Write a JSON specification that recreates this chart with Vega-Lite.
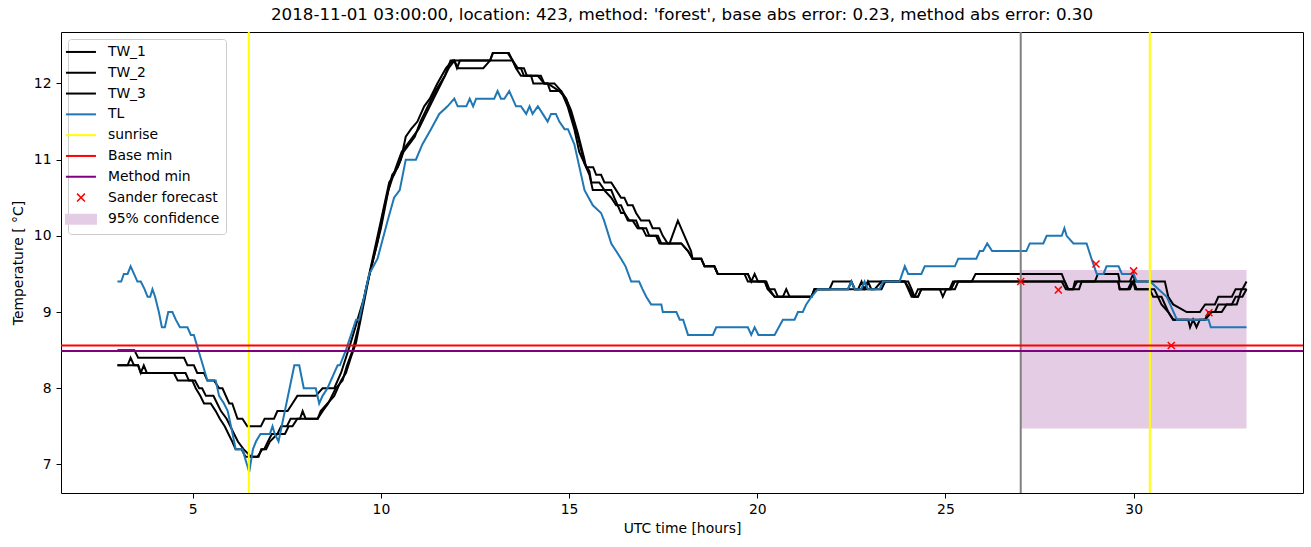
{
  "$schema": "https://vega.github.io/schema/vega-lite/v6.json",
  "width": 1242,
  "height": 461,
  "autosize": {"type": "none"},
  "padding": {"left": 61, "top": 32, "right": 8, "bottom": 54},
  "title": {"text": "2018-11-01 03:00:00, location: 423, method: 'forest', base abs error: 0.23, method abs error: 0.30", "fontSize": 16.7, "fontWeight": "normal", "font": "DejaVu Sans", "color": "black", "offset": 7},
  "config": {
    "font": "DejaVu Sans",
    "view": {"stroke": "black", "strokeWidth": 1},
    "axis": {"domain": false, "grid": false, "tickColor": "black", "tickSize": 5, "labelFontSize": 13.9, "labelColor": "black", "titleFontSize": 13.9, "titleFontWeight": "normal", "titleColor": "black", "labelFont": "DejaVu Sans", "titleFont": "DejaVu Sans"}
  },
  "datasets": {
    "lines": [
      {"s":"TW_1","t":3.00,"v":8.5},{"s":"TW_1","t":3.45,"v":8.5},{"s":"TW_1","t":3.55,"v":8.4},{"s":"TW_1","t":4.77,"v":8.4},{"s":"TW_1","t":4.86,"v":8.3},{"s":"TW_1","t":5.03,"v":8.3},{"s":"TW_1","t":5.12,"v":8.2},{"s":"TW_1","t":5.30,"v":8.2},{"s":"TW_1","t":5.39,"v":8.1},{"s":"TW_1","t":5.57,"v":8.1},{"s":"TW_1","t":5.70,"v":8.0},{"s":"TW_1","t":5.79,"v":8.0},{"s":"TW_1","t":5.97,"v":7.8},{"s":"TW_1","t":6.05,"v":7.8},{"s":"TW_1","t":6.19,"v":7.6},{"s":"TW_1","t":6.32,"v":7.6},{"s":"TW_1","t":6.45,"v":7.5},{"s":"TW_1","t":6.81,"v":7.5},{"s":"TW_1","t":6.91,"v":7.6},{"s":"TW_1","t":7.16,"v":7.6},{"s":"TW_1","t":7.25,"v":7.7},{"s":"TW_1","t":7.52,"v":7.7},{"s":"TW_1","t":7.65,"v":7.8},{"s":"TW_1","t":7.78,"v":7.9},{"s":"TW_1","t":8.27,"v":7.9},{"s":"TW_1","t":8.45,"v":8.0},{"s":"TW_1","t":8.76,"v":8.0},{"s":"TW_1","t":8.94,"v":8.2},{"s":"TW_1","t":9.07,"v":8.4},{"s":"TW_1","t":9.20,"v":8.6},{"s":"TW_1","t":9.38,"v":8.9},{"s":"TW_1","t":9.56,"v":9.2},{"s":"TW_1","t":9.78,"v":9.7},{"s":"TW_1","t":10.00,"v":10.2},{"s":"TW_1","t":10.22,"v":10.7},{"s":"TW_1","t":10.35,"v":10.8},{"s":"TW_1","t":10.53,"v":11.0},{"s":"TW_1","t":10.66,"v":11.3},{"s":"TW_1","t":10.80,"v":11.4},{"s":"TW_1","t":10.97,"v":11.5},{"s":"TW_1","t":11.15,"v":11.7},{"s":"TW_1","t":11.30,"v":11.8},{"s":"TW_1","t":11.50,"v":12.0},{"s":"TW_1","t":11.73,"v":12.2},{"s":"TW_1","t":11.90,"v":12.3},{"s":"TW_1","t":12.90,"v":12.3},{"s":"TW_1","t":12.97,"v":12.4},{"s":"TW_1","t":13.37,"v":12.4},{"s":"TW_1","t":13.50,"v":12.3},{"s":"TW_1","t":13.59,"v":12.2},{"s":"TW_1","t":13.72,"v":12.1},{"s":"TW_1","t":14.17,"v":12.1},{"s":"TW_1","t":14.34,"v":12.0},{"s":"TW_1","t":14.61,"v":12.0},{"s":"TW_1","t":14.79,"v":11.9},{"s":"TW_1","t":14.92,"v":11.8},{"s":"TW_1","t":15.05,"v":11.65},{"s":"TW_1","t":15.23,"v":11.35},{"s":"TW_1","t":15.41,"v":11.0},{"s":"TW_1","t":15.45,"v":10.9},{"s":"TW_1","t":15.64,"v":10.9},{"s":"TW_1","t":15.72,"v":10.8},{"s":"TW_1","t":15.85,"v":10.8},{"s":"TW_1","t":15.94,"v":10.7},{"s":"TW_1","t":16.12,"v":10.7},{"s":"TW_1","t":16.25,"v":10.6},{"s":"TW_1","t":16.38,"v":10.5},{"s":"TW_1","t":16.47,"v":10.5},{"s":"TW_1","t":16.56,"v":10.4},{"s":"TW_1","t":16.69,"v":10.4},{"s":"TW_1","t":16.78,"v":10.3},{"s":"TW_1","t":16.91,"v":10.2},{"s":"TW_1","t":17.13,"v":10.2},{"s":"TW_1","t":17.22,"v":10.1},{"s":"TW_1","t":17.40,"v":10.1},{"s":"TW_1","t":17.49,"v":10.0},{"s":"TW_1","t":17.62,"v":9.9},{"s":"TW_1","t":17.98,"v":9.9},{"s":"TW_1","t":18.16,"v":9.8},{"s":"TW_1","t":18.28,"v":9.7},{"s":"TW_1","t":18.51,"v":9.7},{"s":"TW_1","t":18.60,"v":9.6},{"s":"TW_1","t":18.86,"v":9.6},{"s":"TW_1","t":18.95,"v":9.5},{"s":"TW_1","t":19.75,"v":9.5},{"s":"TW_1","t":19.84,"v":9.4},{"s":"TW_1","t":19.93,"v":9.5},{"s":"TW_1","t":20.02,"v":9.4},{"s":"TW_1","t":20.20,"v":9.4},{"s":"TW_1","t":20.28,"v":9.3},{"s":"TW_1","t":20.46,"v":9.2},{"s":"TW_1","t":21.44,"v":9.2},{"s":"TW_1","t":21.52,"v":9.3},{"s":"TW_1","t":21.92,"v":9.3},{"s":"TW_1","t":22.01,"v":9.4},{"s":"TW_1","t":22.50,"v":9.4},{"s":"TW_1","t":22.59,"v":9.3},{"s":"TW_1","t":22.85,"v":9.3},{"s":"TW_1","t":22.94,"v":9.4},{"s":"TW_1","t":23.92,"v":9.4},{"s":"TW_1","t":24.01,"v":9.3},{"s":"TW_1","t":24.10,"v":9.2},{"s":"TW_1","t":24.18,"v":9.2},{"s":"TW_1","t":24.27,"v":9.3},{"s":"TW_1","t":25.25,"v":9.3},{"s":"TW_1","t":25.34,"v":9.4},{"s":"TW_1","t":25.70,"v":9.4},{"s":"TW_1","t":25.80,"v":9.5},{"s":"TW_1","t":28.09,"v":9.5},{"s":"TW_1","t":28.17,"v":9.4},{"s":"TW_1","t":28.26,"v":9.3},{"s":"TW_1","t":28.39,"v":9.3},{"s":"TW_1","t":28.50,"v":9.4},{"s":"TW_1","t":28.97,"v":9.4},{"s":"TW_1","t":29.05,"v":9.5},{"s":"TW_1","t":29.59,"v":9.5},{"s":"TW_1","t":29.63,"v":9.4},{"s":"TW_1","t":29.90,"v":9.4},{"s":"TW_1","t":29.99,"v":9.5},{"s":"TW_1","t":30.04,"v":9.4},{"s":"TW_1","t":30.83,"v":9.4},{"s":"TW_1","t":30.92,"v":9.2},{"s":"TW_1","t":31.05,"v":9.1},{"s":"TW_1","t":31.41,"v":9.0},{"s":"TW_1","t":31.76,"v":9.0},{"s":"TW_1","t":31.90,"v":9.1},{"s":"TW_1","t":32.16,"v":9.1},{"s":"TW_1","t":32.25,"v":9.2},{"s":"TW_1","t":32.61,"v":9.2},{"s":"TW_1","t":32.71,"v":9.3},{"s":"TW_1","t":32.89,"v":9.3},{"s":"TW_1","t":33.00,"v":9.4},
      {"s":"TW_2","t":3.00,"v":8.3},{"s":"TW_2","t":3.27,"v":8.3},{"s":"TW_2","t":3.35,"v":8.4},{"s":"TW_2","t":3.44,"v":8.3},{"s":"TW_2","t":3.55,"v":8.3},{"s":"TW_2","t":3.62,"v":8.2},{"s":"TW_2","t":3.70,"v":8.3},{"s":"TW_2","t":3.78,"v":8.2},{"s":"TW_2","t":4.50,"v":8.2},{"s":"TW_2","t":4.60,"v":8.1},{"s":"TW_2","t":4.99,"v":8.1},{"s":"TW_2","t":5.08,"v":8.0},{"s":"TW_2","t":5.20,"v":7.9},{"s":"TW_2","t":5.30,"v":7.8},{"s":"TW_2","t":5.48,"v":7.8},{"s":"TW_2","t":5.61,"v":7.7},{"s":"TW_2","t":5.72,"v":7.6},{"s":"TW_2","t":5.85,"v":7.5},{"s":"TW_2","t":5.95,"v":7.4},{"s":"TW_2","t":6.05,"v":7.3},{"s":"TW_2","t":6.14,"v":7.2},{"s":"TW_2","t":6.30,"v":7.2},{"s":"TW_2","t":6.40,"v":7.1},{"s":"TW_2","t":6.72,"v":7.1},{"s":"TW_2","t":6.85,"v":7.2},{"s":"TW_2","t":6.95,"v":7.2},{"s":"TW_2","t":7.05,"v":7.3},{"s":"TW_2","t":7.25,"v":7.4},{"s":"TW_2","t":7.45,"v":7.4},{"s":"TW_2","t":7.55,"v":7.5},{"s":"TW_2","t":7.65,"v":7.5},{"s":"TW_2","t":7.78,"v":7.6},{"s":"TW_2","t":8.32,"v":7.6},{"s":"TW_2","t":8.40,"v":7.7},{"s":"TW_2","t":8.58,"v":7.8},{"s":"TW_2","t":8.76,"v":7.9},{"s":"TW_2","t":8.94,"v":8.1},{"s":"TW_2","t":9.07,"v":8.2},{"s":"TW_2","t":9.20,"v":8.4},{"s":"TW_2","t":9.34,"v":8.6},{"s":"TW_2","t":9.50,"v":9.0},{"s":"TW_2","t":9.70,"v":9.5},{"s":"TW_2","t":9.90,"v":9.9},{"s":"TW_2","t":10.10,"v":10.4},{"s":"TW_2","t":10.30,"v":10.8},{"s":"TW_2","t":10.45,"v":10.9},{"s":"TW_2","t":10.60,"v":11.1},{"s":"TW_2","t":10.75,"v":11.2},{"s":"TW_2","t":10.90,"v":11.3},{"s":"TW_2","t":11.05,"v":11.5},{"s":"TW_2","t":11.25,"v":11.7},{"s":"TW_2","t":11.45,"v":11.9},{"s":"TW_2","t":11.70,"v":12.1},{"s":"TW_2","t":11.85,"v":12.3},{"s":"TW_2","t":11.95,"v":12.3},{"s":"TW_2","t":12.02,"v":12.2},{"s":"TW_2","t":12.10,"v":12.3},{"s":"TW_2","t":13.50,"v":12.3},{"s":"TW_2","t":13.64,"v":12.2},{"s":"TW_2","t":13.80,"v":12.2},{"s":"TW_2","t":13.88,"v":12.1},{"s":"TW_2","t":14.25,"v":12.1},{"s":"TW_2","t":14.34,"v":12.0},{"s":"TW_2","t":14.43,"v":12.0},{"s":"TW_2","t":14.74,"v":11.9},{"s":"TW_2","t":14.92,"v":11.8},{"s":"TW_2","t":15.05,"v":11.6},{"s":"TW_2","t":15.23,"v":11.3},{"s":"TW_2","t":15.41,"v":10.95},{"s":"TW_2","t":15.54,"v":10.8},{"s":"TW_2","t":15.63,"v":10.6},{"s":"TW_2","t":15.93,"v":10.6},{"s":"TW_2","t":16.12,"v":10.5},{"s":"TW_2","t":16.25,"v":10.4},{"s":"TW_2","t":16.38,"v":10.4},{"s":"TW_2","t":16.47,"v":10.3},{"s":"TW_2","t":16.60,"v":10.2},{"s":"TW_2","t":16.78,"v":10.2},{"s":"TW_2","t":16.86,"v":10.1},{"s":"TW_2","t":17.05,"v":10.1},{"s":"TW_2","t":17.13,"v":10.0},{"s":"TW_2","t":17.31,"v":10.0},{"s":"TW_2","t":17.40,"v":9.9},{"s":"TW_2","t":17.67,"v":9.9},{"s":"TW_2","t":17.89,"v":10.2},{"s":"TW_2","t":18.24,"v":9.8},{"s":"TW_2","t":18.28,"v":9.7},{"s":"TW_2","t":18.51,"v":9.7},{"s":"TW_2","t":18.60,"v":9.6},{"s":"TW_2","t":18.86,"v":9.6},{"s":"TW_2","t":18.95,"v":9.5},{"s":"TW_2","t":19.66,"v":9.5},{"s":"TW_2","t":19.75,"v":9.4},{"s":"TW_2","t":20.20,"v":9.4},{"s":"TW_2","t":20.28,"v":9.3},{"s":"TW_2","t":20.46,"v":9.3},{"s":"TW_2","t":20.55,"v":9.2},{"s":"TW_2","t":20.68,"v":9.2},{"s":"TW_2","t":20.77,"v":9.3},{"s":"TW_2","t":20.86,"v":9.2},{"s":"TW_2","t":21.44,"v":9.2},{"s":"TW_2","t":21.52,"v":9.3},{"s":"TW_2","t":22.41,"v":9.3},{"s":"TW_2","t":22.50,"v":9.4},{"s":"TW_2","t":22.59,"v":9.3},{"s":"TW_2","t":22.85,"v":9.3},{"s":"TW_2","t":22.94,"v":9.4},{"s":"TW_2","t":23.03,"v":9.3},{"s":"TW_2","t":23.30,"v":9.3},{"s":"TW_2","t":23.40,"v":9.4},{"s":"TW_2","t":23.92,"v":9.4},{"s":"TW_2","t":24.05,"v":9.3},{"s":"TW_2","t":24.15,"v":9.2},{"s":"TW_2","t":24.27,"v":9.2},{"s":"TW_2","t":24.36,"v":9.3},{"s":"TW_2","t":24.85,"v":9.3},{"s":"TW_2","t":24.93,"v":9.2},{"s":"TW_2","t":25.02,"v":9.3},{"s":"TW_2","t":25.15,"v":9.3},{"s":"TW_2","t":25.25,"v":9.4},{"s":"TW_2","t":28.09,"v":9.4},{"s":"TW_2","t":28.20,"v":9.3},{"s":"TW_2","t":28.39,"v":9.3},{"s":"TW_2","t":28.44,"v":9.4},{"s":"TW_2","t":29.59,"v":9.4},{"s":"TW_2","t":29.63,"v":9.3},{"s":"TW_2","t":29.90,"v":9.3},{"s":"TW_2","t":29.99,"v":9.4},{"s":"TW_2","t":30.04,"v":9.3},{"s":"TW_2","t":30.43,"v":9.3},{"s":"TW_2","t":30.52,"v":9.2},{"s":"TW_2","t":30.74,"v":9.2},{"s":"TW_2","t":30.92,"v":9.0},{"s":"TW_2","t":31.05,"v":8.9},{"s":"TW_2","t":31.45,"v":8.9},{"s":"TW_2","t":31.50,"v":8.8},{"s":"TW_2","t":31.58,"v":8.9},{"s":"TW_2","t":31.67,"v":8.8},{"s":"TW_2","t":31.76,"v":8.9},{"s":"TW_2","t":31.90,"v":8.9},{"s":"TW_2","t":31.99,"v":9.0},{"s":"TW_2","t":32.16,"v":9.0},{"s":"TW_2","t":32.25,"v":9.1},{"s":"TW_2","t":32.61,"v":9.1},{"s":"TW_2","t":32.71,"v":9.2},{"s":"TW_2","t":32.89,"v":9.2},{"s":"TW_2","t":33.00,"v":9.3},
      {"s":"TW_3","t":3.00,"v":8.3},{"s":"TW_3","t":3.55,"v":8.3},{"s":"TW_3","t":3.62,"v":8.2},{"s":"TW_3","t":4.81,"v":8.2},{"s":"TW_3","t":4.90,"v":8.1},{"s":"TW_3","t":5.06,"v":8.1},{"s":"TW_3","t":5.17,"v":8.0},{"s":"TW_3","t":5.25,"v":8.0},{"s":"TW_3","t":5.35,"v":7.9},{"s":"TW_3","t":5.55,"v":7.9},{"s":"TW_3","t":5.65,"v":7.8},{"s":"TW_3","t":5.75,"v":7.7},{"s":"TW_3","t":5.90,"v":7.6},{"s":"TW_3","t":6.00,"v":7.5},{"s":"TW_3","t":6.10,"v":7.4},{"s":"TW_3","t":6.20,"v":7.3},{"s":"TW_3","t":6.35,"v":7.2},{"s":"TW_3","t":6.55,"v":7.1},{"s":"TW_3","t":6.75,"v":7.1},{"s":"TW_3","t":6.82,"v":7.2},{"s":"TW_3","t":6.90,"v":7.2},{"s":"TW_3","t":7.00,"v":7.3},{"s":"TW_3","t":7.10,"v":7.4},{"s":"TW_3","t":7.25,"v":7.4},{"s":"TW_3","t":7.35,"v":7.5},{"s":"TW_3","t":7.50,"v":7.5},{"s":"TW_3","t":7.60,"v":7.6},{"s":"TW_3","t":7.85,"v":7.6},{"s":"TW_3","t":7.92,"v":7.7},{"s":"TW_3","t":8.00,"v":7.6},{"s":"TW_3","t":8.32,"v":7.6},{"s":"TW_3","t":8.45,"v":7.7},{"s":"TW_3","t":8.60,"v":7.8},{"s":"TW_3","t":8.80,"v":8.0},{"s":"TW_3","t":8.98,"v":8.1},{"s":"TW_3","t":9.10,"v":8.3},{"s":"TW_3","t":9.25,"v":8.5},{"s":"TW_3","t":9.40,"v":8.8},{"s":"TW_3","t":9.60,"v":9.3},{"s":"TW_3","t":9.80,"v":9.7},{"s":"TW_3","t":10.00,"v":10.1},{"s":"TW_3","t":10.20,"v":10.6},{"s":"TW_3","t":10.40,"v":10.9},{"s":"TW_3","t":10.55,"v":11.1},{"s":"TW_3","t":10.70,"v":11.2},{"s":"TW_3","t":10.85,"v":11.3},{"s":"TW_3","t":11.00,"v":11.4},{"s":"TW_3","t":11.20,"v":11.6},{"s":"TW_3","t":11.40,"v":11.8},{"s":"TW_3","t":11.60,"v":12.0},{"s":"TW_3","t":11.80,"v":12.2},{"s":"TW_3","t":11.95,"v":12.3},{"s":"TW_3","t":12.05,"v":12.2},{"s":"TW_3","t":12.72,"v":12.2},{"s":"TW_3","t":12.90,"v":12.3},{"s":"TW_3","t":12.98,"v":12.4},{"s":"TW_3","t":13.40,"v":12.4},{"s":"TW_3","t":13.50,"v":12.3},{"s":"TW_3","t":13.60,"v":12.2},{"s":"TW_3","t":13.72,"v":12.2},{"s":"TW_3","t":13.80,"v":12.1},{"s":"TW_3","t":13.99,"v":12.1},{"s":"TW_3","t":14.05,"v":12.0},{"s":"TW_3","t":14.43,"v":12.0},{"s":"TW_3","t":14.50,"v":11.9},{"s":"TW_3","t":14.79,"v":11.9},{"s":"TW_3","t":14.96,"v":11.7},{"s":"TW_3","t":15.14,"v":11.4},{"s":"TW_3","t":15.27,"v":11.1},{"s":"TW_3","t":15.41,"v":10.95},{"s":"TW_3","t":15.54,"v":10.85},{"s":"TW_3","t":15.59,"v":10.7},{"s":"TW_3","t":15.80,"v":10.7},{"s":"TW_3","t":15.94,"v":10.6},{"s":"TW_3","t":16.12,"v":10.6},{"s":"TW_3","t":16.20,"v":10.5},{"s":"TW_3","t":16.38,"v":10.3},{"s":"TW_3","t":16.47,"v":10.3},{"s":"TW_3","t":16.56,"v":10.2},{"s":"TW_3","t":16.69,"v":10.2},{"s":"TW_3","t":16.82,"v":10.1},{"s":"TW_3","t":16.95,"v":10.1},{"s":"TW_3","t":17.05,"v":10.0},{"s":"TW_3","t":17.36,"v":10.0},{"s":"TW_3","t":17.45,"v":9.9},{"s":"TW_3","t":17.98,"v":9.9},{"s":"TW_3","t":18.16,"v":9.8},{"s":"TW_3","t":18.28,"v":9.7},{"s":"TW_3","t":18.51,"v":9.7},{"s":"TW_3","t":18.60,"v":9.6},{"s":"TW_3","t":18.86,"v":9.6},{"s":"TW_3","t":18.95,"v":9.5},{"s":"TW_3","t":19.75,"v":9.5},{"s":"TW_3","t":19.84,"v":9.4},{"s":"TW_3","t":20.24,"v":9.4},{"s":"TW_3","t":20.32,"v":9.3},{"s":"TW_3","t":20.46,"v":9.2},{"s":"TW_3","t":21.44,"v":9.2},{"s":"TW_3","t":21.52,"v":9.3},{"s":"TW_3","t":22.68,"v":9.3},{"s":"TW_3","t":22.77,"v":9.4},{"s":"TW_3","t":22.85,"v":9.3},{"s":"TW_3","t":23.12,"v":9.3},{"s":"TW_3","t":23.30,"v":9.4},{"s":"TW_3","t":24.01,"v":9.4},{"s":"TW_3","t":24.10,"v":9.3},{"s":"TW_3","t":24.18,"v":9.2},{"s":"TW_3","t":24.27,"v":9.2},{"s":"TW_3","t":24.36,"v":9.3},{"s":"TW_3","t":25.11,"v":9.3},{"s":"TW_3","t":25.20,"v":9.4},{"s":"TW_3","t":28.17,"v":9.4},{"s":"TW_3","t":28.26,"v":9.3},{"s":"TW_3","t":28.55,"v":9.3},{"s":"TW_3","t":28.62,"v":9.4},{"s":"TW_3","t":29.59,"v":9.4},{"s":"TW_3","t":29.63,"v":9.3},{"s":"TW_3","t":29.85,"v":9.3},{"s":"TW_3","t":29.95,"v":9.4},{"s":"TW_3","t":30.00,"v":9.4},{"s":"TW_3","t":30.08,"v":9.3},{"s":"TW_3","t":30.55,"v":9.3},{"s":"TW_3","t":30.74,"v":9.1},{"s":"TW_3","t":30.92,"v":9.0},{"s":"TW_3","t":31.05,"v":8.9},{"s":"TW_3","t":31.90,"v":8.9},{"s":"TW_3","t":32.07,"v":9.0},{"s":"TW_3","t":32.34,"v":9.0},{"s":"TW_3","t":32.47,"v":9.1},{"s":"TW_3","t":32.74,"v":9.1},{"s":"TW_3","t":32.87,"v":9.3},{"s":"TW_3","t":33.00,"v":9.3},
      {"s":"TL","t":3.00,"v":9.4},{"s":"TL","t":3.10,"v":9.4},{"s":"TL","t":3.17,"v":9.5},{"s":"TL","t":3.27,"v":9.5},{"s":"TL","t":3.35,"v":9.6},{"s":"TL","t":3.44,"v":9.5},{"s":"TL","t":3.53,"v":9.4},{"s":"TL","t":3.62,"v":9.4},{"s":"TL","t":3.72,"v":9.3},{"s":"TL","t":3.80,"v":9.2},{"s":"TL","t":3.87,"v":9.2},{"s":"TL","t":3.93,"v":9.3},{"s":"TL","t":4.00,"v":9.2},{"s":"TL","t":4.10,"v":9.0},{"s":"TL","t":4.18,"v":8.8},{"s":"TL","t":4.26,"v":8.8},{"s":"TL","t":4.35,"v":9.0},{"s":"TL","t":4.46,"v":9.0},{"s":"TL","t":4.55,"v":8.9},{"s":"TL","t":4.66,"v":8.8},{"s":"TL","t":4.86,"v":8.8},{"s":"TL","t":4.95,"v":8.7},{"s":"TL","t":5.03,"v":8.7},{"s":"TL","t":5.21,"v":8.4},{"s":"TL","t":5.39,"v":8.1},{"s":"TL","t":5.61,"v":8.1},{"s":"TL","t":5.70,"v":7.9},{"s":"TL","t":5.83,"v":7.8},{"s":"TL","t":5.93,"v":7.7},{"s":"TL","t":6.06,"v":7.4},{"s":"TL","t":6.14,"v":7.2},{"s":"TL","t":6.32,"v":7.2},{"s":"TL","t":6.50,"v":6.9},{"s":"TL","t":6.60,"v":7.2},{"s":"TL","t":6.68,"v":7.3},{"s":"TL","t":6.80,"v":7.4},{"s":"TL","t":7.05,"v":7.4},{"s":"TL","t":7.12,"v":7.5},{"s":"TL","t":7.18,"v":7.4},{"s":"TL","t":7.28,"v":7.3},{"s":"TL","t":7.70,"v":8.3},{"s":"TL","t":7.83,"v":8.3},{"s":"TL","t":7.95,"v":8.0},{"s":"TL","t":8.27,"v":8.0},{"s":"TL","t":8.36,"v":7.8},{"s":"TL","t":8.45,"v":7.9},{"s":"TL","t":8.58,"v":8.0},{"s":"TL","t":8.85,"v":8.3},{"s":"TL","t":8.91,"v":8.3},{"s":"TL","t":9.07,"v":8.5},{"s":"TL","t":9.34,"v":8.9},{"s":"TL","t":9.42,"v":8.9},{"s":"TL","t":9.69,"v":9.5},{"s":"TL","t":9.91,"v":9.7},{"s":"TL","t":10.18,"v":10.2},{"s":"TL","t":10.35,"v":10.5},{"s":"TL","t":10.50,"v":10.6},{"s":"TL","t":10.66,"v":11.0},{"s":"TL","t":10.93,"v":11.0},{"s":"TL","t":11.10,"v":11.2},{"s":"TL","t":11.33,"v":11.4},{"s":"TL","t":11.55,"v":11.6},{"s":"TL","t":11.77,"v":11.7},{"s":"TL","t":11.95,"v":11.8},{"s":"TL","t":12.04,"v":11.7},{"s":"TL","t":12.27,"v":11.7},{"s":"TL","t":12.36,"v":11.8},{"s":"TL","t":12.45,"v":11.7},{"s":"TL","t":12.53,"v":11.8},{"s":"TL","t":13.01,"v":11.8},{"s":"TL","t":13.10,"v":11.9},{"s":"TL","t":13.19,"v":11.8},{"s":"TL","t":13.28,"v":11.8},{"s":"TL","t":13.41,"v":11.9},{"s":"TL","t":13.59,"v":11.7},{"s":"TL","t":13.72,"v":11.7},{"s":"TL","t":13.86,"v":11.6},{"s":"TL","t":13.95,"v":11.7},{"s":"TL","t":14.03,"v":11.6},{"s":"TL","t":14.17,"v":11.7},{"s":"TL","t":14.30,"v":11.6},{"s":"TL","t":14.43,"v":11.5},{"s":"TL","t":14.52,"v":11.6},{"s":"TL","t":14.65,"v":11.6},{"s":"TL","t":14.74,"v":11.5},{"s":"TL","t":14.88,"v":11.4},{"s":"TL","t":14.97,"v":11.4},{"s":"TL","t":15.14,"v":11.2},{"s":"TL","t":15.32,"v":10.8},{"s":"TL","t":15.41,"v":10.6},{"s":"TL","t":15.63,"v":10.4},{"s":"TL","t":15.85,"v":10.3},{"s":"TL","t":15.93,"v":10.2},{"s":"TL","t":16.12,"v":9.9},{"s":"TL","t":16.25,"v":9.8},{"s":"TL","t":16.38,"v":9.7},{"s":"TL","t":16.50,"v":9.6},{"s":"TL","t":16.65,"v":9.4},{"s":"TL","t":16.86,"v":9.4},{"s":"TL","t":16.95,"v":9.3},{"s":"TL","t":17.05,"v":9.2},{"s":"TL","t":17.18,"v":9.1},{"s":"TL","t":17.45,"v":9.1},{"s":"TL","t":17.49,"v":9.0},{"s":"TL","t":17.85,"v":9.0},{"s":"TL","t":17.94,"v":8.9},{"s":"TL","t":18.03,"v":8.9},{"s":"TL","t":18.16,"v":8.7},{"s":"TL","t":18.82,"v":8.7},{"s":"TL","t":18.91,"v":8.8},{"s":"TL","t":19.75,"v":8.8},{"s":"TL","t":19.84,"v":8.7},{"s":"TL","t":19.93,"v":8.8},{"s":"TL","t":20.03,"v":8.7},{"s":"TL","t":20.46,"v":8.7},{"s":"TL","t":20.68,"v":8.9},{"s":"TL","t":20.99,"v":8.9},{"s":"TL","t":21.08,"v":9.0},{"s":"TL","t":21.21,"v":9.0},{"s":"TL","t":21.30,"v":9.1},{"s":"TL","t":21.44,"v":9.2},{"s":"TL","t":21.61,"v":9.3},{"s":"TL","t":22.41,"v":9.3},{"s":"TL","t":22.50,"v":9.4},{"s":"TL","t":22.59,"v":9.3},{"s":"TL","t":22.76,"v":9.3},{"s":"TL","t":22.85,"v":9.4},{"s":"TL","t":22.94,"v":9.3},{"s":"TL","t":23.25,"v":9.3},{"s":"TL","t":23.34,"v":9.4},{"s":"TL","t":23.78,"v":9.4},{"s":"TL","t":23.92,"v":9.6},{"s":"TL","t":24.01,"v":9.5},{"s":"TL","t":24.36,"v":9.5},{"s":"TL","t":24.45,"v":9.6},{"s":"TL","t":25.25,"v":9.6},{"s":"TL","t":25.34,"v":9.7},{"s":"TL","t":25.82,"v":9.7},{"s":"TL","t":25.91,"v":9.8},{"s":"TL","t":26.00,"v":9.8},{"s":"TL","t":26.11,"v":9.9},{"s":"TL","t":26.24,"v":9.8},{"s":"TL","t":27.15,"v":9.8},{"s":"TL","t":27.24,"v":9.9},{"s":"TL","t":27.60,"v":9.9},{"s":"TL","t":27.69,"v":10.0},{"s":"TL","t":28.09,"v":10.0},{"s":"TL","t":28.16,"v":10.1},{"s":"TL","t":28.22,"v":10.0},{"s":"TL","t":28.40,"v":9.9},{"s":"TL","t":28.75,"v":9.9},{"s":"TL","t":28.88,"v":9.7},{"s":"TL","t":29.02,"v":9.5},{"s":"TL","t":29.20,"v":9.5},{"s":"TL","t":29.28,"v":9.6},{"s":"TL","t":29.60,"v":9.6},{"s":"TL","t":29.69,"v":9.5},{"s":"TL","t":30.00,"v":9.5},{"s":"TL","t":30.08,"v":9.4},{"s":"TL","t":30.44,"v":9.4},{"s":"TL","t":30.66,"v":9.3},{"s":"TL","t":30.88,"v":9.2},{"s":"TL","t":30.97,"v":9.1},{"s":"TL","t":31.06,"v":9.0},{"s":"TL","t":31.15,"v":8.9},{"s":"TL","t":31.99,"v":8.9},{"s":"TL","t":32.05,"v":8.8},{"s":"TL","t":33.00,"v":8.8}
    ],
    "conf": [{"s": "95% confidence", "t0": 27, "t1": 33, "lo": 7.47, "hi": 9.55}],
    "sunrise": [{"s": "sunrise", "t": 6.49}, {"s": "sunrise", "t": 30.43}],
    "start": [{"t": 27.0}],
    "mins": [{"s": "Base min", "v": 8.56}, {"s": "Method min", "v": 8.49}],
    "forecast": [
      {"s": "Sander forecast", "t": 27, "v": 9.40},
      {"s": "Sander forecast", "t": 28, "v": 9.29},
      {"s": "Sander forecast", "t": 29, "v": 9.63},
      {"s": "Sander forecast", "t": 30, "v": 9.54},
      {"s": "Sander forecast", "t": 31, "v": 8.56},
      {"s": "Sander forecast", "t": 32, "v": 8.99}
    ]
  },
  "layer": [
    {
      "data": {"name": "conf"},
      "mark": {"type": "rect"},
      "encoding": {
        "x": {"field": "t0", "type": "quantitative", "scale": {"domain": [1.5, 34.5], "nice": false, "zero": false}, "axis": {"values": [5, 10, 15, 20, 25, 30], "format": "d", "title": "UTC time [hours]", "labelPadding": 4, "titlePadding": 6}},
        "x2": {"field": "t1"},
        "y": {"field": "lo", "type": "quantitative", "scale": {"domain": [6.625, 12.675], "nice": false, "zero": false}, "axis": {"values": [7, 8, 9, 10, 11, 12], "format": "d", "title": "Temperature [ °C]", "labelPadding": 5, "titlePadding": 8}},
        "y2": {"field": "hi"},
        "color": {"field": "s", "type": "nominal", "scale": {"domain": ["TW_1", "TW_2", "TW_3", "TL", "sunrise", "Base min", "Method min", "Sander forecast", "95% confidence"], "range": ["#000000", "#000000", "#000000", "#1f77b4", "#ffff00", "#ff0000", "#800080", "#ff0000", "#e5cce5"]},
          "legend": {
            "title": null, "orient": "top-left", "offset": 7, "padding": 6,
            "fillColor": "white", "strokeColor": "#cccccc", "cornerRadius": 3,
            "labelFont": "DejaVu Sans", "labelFontSize": 13.9, "labelColor": "black",
            "rowPadding": 5.8, "symbolSize": 900, "symbolType": "stroke", "symbolStrokeWidth": 2, "labelOffset": 20,
            "encode": {"symbols": {"update": {
              "shape": {"signal": "datum.value === 'Sander forecast' ? 'M-0.26,-0.26L0.26,0.26M0.26,-0.26L-0.26,0.26' : (datum.value === '95% confidence' ? 'M-1,-0.3L1,-0.3L1,0.3L-1,0.3Z' : 'stroke')"},
              "fill": {"signal": "datum.value === '95% confidence' ? '#e5cce5' : 'transparent'"},
              "fillOpacity": {"value": 1},
              "strokeOpacity": {"value": 1},
              "opacity": {"value": 1},
              "stroke": {"signal": "indexof(['TW_1','TW_2','TW_3'], datum.value) >= 0 ? 'black' : (datum.value === 'TL' ? '#1f77b4' : (datum.value === 'sunrise' ? '#ffff00' : (datum.value === 'Method min' ? '#800080' : (datum.value === '95% confidence' ? 'transparent' : '#ff0000'))))"},
              "strokeWidth": {"signal": "datum.value === 'Sander forecast' ? 1.5 : 2"}
            }}}
          }
        }
      }
    },
    {
      "data": {"name": "lines"},
      "mark": {"type": "line", "strokeWidth": 2},
      "encoding": {
        "x": {"field": "t", "type": "quantitative"},
        "y": {"field": "v", "type": "quantitative"},
        "color": {"field": "s", "type": "nominal"},
        "detail": {"field": "s"},
        "order": {"field": "t", "type": "quantitative"}
      }
    },
    {
      "data": {"name": "start"},
      "mark": {"type": "rule", "color": "gray", "strokeWidth": 2},
      "encoding": {"x": {"field": "t", "type": "quantitative"}}
    },
    {
      "data": {"name": "sunrise"},
      "mark": {"type": "rule", "strokeWidth": 2},
      "encoding": {"x": {"field": "t", "type": "quantitative"}, "color": {"field": "s", "type": "nominal"}}
    },
    {
      "data": {"name": "mins"},
      "mark": {"type": "rule", "strokeWidth": 2},
      "encoding": {"y": {"field": "v", "type": "quantitative"}, "color": {"field": "s", "type": "nominal"}}
    },
    {
      "data": {"name": "forecast"},
      "mark": {"type": "point", "shape": "M-1,-1L1,1M1,-1L-1,1", "size": 50, "filled": false, "strokeWidth": 1.5, "opacity": 1},
      "encoding": {"x": {"field": "t", "type": "quantitative"}, "y": {"field": "v", "type": "quantitative"}, "color": {"field": "s", "type": "nominal"}}
    }
  ]
}
